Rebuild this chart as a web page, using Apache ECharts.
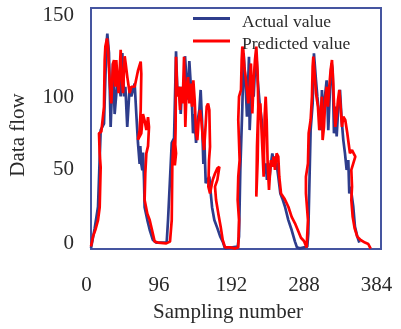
<!DOCTYPE html>
<html>
<head>
<meta charset="utf-8">
<script src="https://cdn.jsdelivr.net/npm/echarts@6/dist/echarts.min.js"></script>
<style>
html,body{margin:0;padding:0;background:#fff;}
#chart{width:401px;height:329px;}
</style>
</head>
<body>
<div id="chart"></div>
<script>
var seriesNames = ['Actual value', 'Predicted value'];
var xTicks = [0, 96, 192, 288, 384];
var yTicks = [0, 50, 100, 150];

var actualPoints = [[0,0.5],[4.9,12.9],[9.3,26.3],[12.8,74],[17.2,78],[20.3,126],[21.6,134],[23.8,122],[26,76],[29.1,115.5],[31.3,84],[35.7,109],[39.3,95],[41.5,122],[43.7,95],[45.5,101],[48,76],[51.2,101],[53.4,95],[57.8,103],[60,84],[62.2,66],[64.4,53],[65.3,64],[66.6,53],[68,49],[68.9,60],[70.2,43],[71,26],[74.6,18],[77.7,12],[82,5.6],[86.5,4],[91.4,4],[100.2,4],[102,18],[106.9,66],[110,69],[112.6,123],[114.4,97],[117,101],[118.8,84],[120.5,101],[122.3,91],[124.5,120],[126.7,103],[128,93],[130.2,117],[132,103],[133.8,89],[135.1,72],[136.9,84],[139.1,66],[141.3,80],[143.5,86.5],[145.2,99],[147,80],[148.8,53],[150.1,68],[151.9,41],[154.1,41],[156.7,45],[158.5,35],[160.3,26],[163.3,18],[167.3,13],[170.9,8],[174.4,4.6],[177.4,0.4],[194.2,1.5],[196,7.7],[197.7,49],[200.4,88.6],[202.1,121.8],[203.9,122.8],[205.2,96.9],[206.5,82.3],[207.9,101],[209.2,119.7],[210.1,74],[211.8,92.7],[213.6,105],[215.4,94.8],[217.1,111.4],[218.9,121.8],[220.7,105],[223.3,90.6],[226,80.3],[228.2,63.7],[229.5,47],[231.3,53.3],[233,43],[234.8,53.3],[236.5,45],[238.3,53.3],[240.1,59.5],[242.3,53.3],[244.5,57.5],[246.3,51.2],[248,45],[250.7,34.6],[253.3,31.5],[256.9,26.3],[261.3,18],[265.7,11.8],[270.1,4.6],[272.7,1],[276.7,0.4],[286.4,1.5],[287.7,9.7],[289.1,38.8],[290.8,74],[293.5,90.6],[295.2,121.8],[296.6,122.8],[297.9,105],[299.7,94.8],[302.3,82.3],[304.1,74],[305.8,99],[307.6,80.3],[309.8,94.8],[312,105],[314.2,74],[316.4,99],[318.6,115.5],[320,111.4],[321.7,72],[323.5,88.6],[325.3,70],[327.5,88.6],[329.7,99],[331.9,80.3],[334.1,67.8],[336.3,59.5],[338.5,49.2],[340.7,55.4],[342,34.6],[343.8,38.8],[345.5,32.6],[347.3,26.3],[349.5,13.9],[352.6,7.7],[355.3,4]];

var predictedPoints = [[0,1.5],[2.6,7.7],[5.7,11.8],[9.3,18],[11.5,26],[12.8,51],[11.5,59.5],[10.6,72],[13.7,73],[15.9,74],[17.2,88.5],[18.1,117.6],[19,126],[21.2,131],[22.5,126],[23.4,115.5],[25.2,101],[26.9,90.6],[29.1,115.5],[30.5,117.6],[32.2,101],[33.5,117.6],[34.9,107],[36.6,97],[39.3,124],[40.2,111],[42.4,97],[44.6,120],[45.9,115.5],[48.1,107],[51.2,97],[53.4,101],[57.8,101],[62.2,111],[65.8,116.6],[66.6,109],[65.8,86.5],[64.4,74],[62.2,68],[66.6,72],[68.8,84],[71,80],[73.3,74],[75.5,82],[76.8,76],[75.5,64],[73.3,59.5],[71.9,47],[71,30.5],[74.6,22],[77.7,18],[80.8,11.8],[84.3,4.6],[88.7,4],[99.7,3.5],[104.6,4.6],
[106.9,18],[107.7,53],[109,66],[111,68],[112.6,59.5],[111,52],[112,75],[112.6,119.7],[114.4,94.8],[116.1,101],[117.9,86.5],[119.6,101],[121.4,90.6],[123.2,119.7],[124.9,76],[126.7,101],[128.5,107],[130.2,90.6],[132,103],[133.8,88.6],[135.5,105],[137.3,92.7],[139.1,72],[140.8,67.8],[142.6,80.3],[144.4,86.5],[146.1,80.3],[147.9,70],[149.7,61.6],[151.4,74],[153.2,88.6],[155,90.6],[156.7,86.5],[157.6,63.7],[156.3,55.4],[155.4,38.8],[157.6,34.6],[161.1,43],[164.2,47],[167.3,50.2],[170,51.2],[167.3,43],[164.2,38.8],[165.6,30.5],[168.6,22],[171.7,13.9],[174.4,5.6],[177.5,1],[184.1,1],[190.6,0.4],[195,1],
[196,18],[194.2,30.5],[195,45],[196.8,55.4],[195,80.3],[196,94.8],[198.6,99],[199.5,117.6],[200.4,126],[201.7,124],[203,113.5],[204.8,107],[206.5,99],[208.3,90.6],[210.1,101],[211.8,115.5],[213.6,84.4],[215.4,105],[217.1,117.6],[218.9,126],[220.7,109],[221.5,88.6],[219.8,63.7],[218.9,32.6],[220.7,55.4],[221.5,80.3],[224.2,90.6],[226.8,63.7],[228.6,45],[229.9,82.3],[231.3,94.8],[232.6,80.3],[233.9,53.3],[235.7,36.7],[237,47],[238.3,55.4],[240.1,51.2],[241.8,57.5],[243.6,49.2],[245.8,59.5],[248,57.5],[249.3,45],[251.6,34.6],[256,31.5],[261.3,26.3],[265.7,20],[270.1,16],[274.5,11],[278,7],[282,5],[285.5,1],
[287.3,18],[284.6,34.6],[284.6,45],[287.3,53.3],[288.2,72],[290.8,80.3],[292.6,94.8],[293.5,113.5],[294.4,119.7],[296.1,109],[297.9,96.9],[300.5,88.6],[302.3,74],[304.1,84.4],[305.8,94.8],[306.7,67.8],[308.5,76],[310.2,92.7],[312,101],[313.8,88.6],[315.5,101],[317.3,111.4],[319.1,117.6],[320.8,103],[321.7,90.6],[323.5,76],[325.2,82.3],[327,92.7],[328.8,99],[330.5,88.6],[332.3,76],[334.1,82.3],[336.7,80.3],[339.4,72],[341.1,65.8],[342.9,59.5],[345.6,61.6],[348.2,60.6],[350,57.5],[347.3,53.3],[344.7,49.2],[345.6,38.8],[344.7,30.5],[346.5,20],[349.1,12.9],[352.6,7.7],[357,5.6],[362.8,4],[367.2,3.1],[370.3,0.2]];

var FONT = '"Liberation Serif", "DejaVu Serif", serif';
var TXT = '#2a2a2a';
var yLabelRich = {
  t150: {fontFamily: FONT, fontSize: 21, color: TXT, padding: [14, 0, 0, 0]},
  t100: {fontFamily: FONT, fontSize: 21, color: TXT, padding: [18, 0, 0, 0]},
  t50: {fontFamily: FONT, fontSize: 21, color: TXT, padding: [2, 0, 0, 0]},
  t0: {fontFamily: FONT, fontSize: 21, color: TXT, padding: [0, 0, 12, 0]}
};
var chart = echarts.init(document.getElementById('chart'), null, {renderer: 'canvas'});
chart.setOption({
  animation: false,
  backgroundColor: '#ffffff',
  grid: {left: 91, right: 20, top: 8, bottom: 80, show: true, borderColor: '#4555a0', borderWidth: 2, backgroundColor: 'transparent'},
  xAxis: {
    type: 'value', min: xTicks[0], max: xTicks[xTicks.length - 1], interval: 96,
    axisLine: {show: false}, axisTick: {show: false}, splitLine: {show: false},
    axisLabel: {fontFamily: FONT, fontSize: 21, color: TXT, margin: 26, padding: [0, 9, 0, 0]}
  },
  yAxis: {
    type: 'value', min: yTicks[0], max: yTicks[yTicks.length - 1], interval: 50,
    axisLine: {show: false}, axisTick: {show: false}, splitLine: {show: false},
    axisLabel: {margin: 17, formatter: function (v) { return '{t' + v + '|' + v + '}'; }, rich: yLabelRich}
  },
  legend: {
    orient: 'vertical', left: 193, top: 6, padding: 0, itemWidth: 37, itemHeight: 3, itemGap: -2.5,
    data: [{name: seriesNames[0], icon: 'rect'}, {name: seriesNames[1], icon: 'rect'}],
    formatter: '{a|{name}}',
    textStyle: {fontFamily: FONT, fontSize: 17.5, color: TXT,
      rich: {a: {fontFamily: FONT, fontSize: 17.5, lineHeight: 14, color: TXT, padding: [7, 0, 0, 7]}}}
  },
  graphic: [
    {type: 'text', x: 228, y: 312, style: {text: 'Sampling number', fontFamily: FONT, fontSize: 21, fill: TXT, align: 'center', verticalAlign: 'middle'}},
    {type: 'text', x: 18, y: 135, rotation: Math.PI / 2, style: {text: 'Data flow', fontFamily: FONT, fontSize: 21, fill: TXT, align: 'center', verticalAlign: 'middle'}}
  ],
  series: [
    {name: seriesNames[0], type: 'line', data: actualPoints, showSymbol: false, symbol: 'none', lineStyle: {color: '#2e3d8c', width: 2.7}, itemStyle: {color: '#2e3d8c'}, z: 2},
    {name: seriesNames[1], type: 'line', data: predictedPoints, showSymbol: false, symbol: 'none', lineStyle: {color: '#ff0000', width: 2.7}, itemStyle: {color: '#ff0000'}, z: 3}
  ]
});
</script>
</body>
</html>
